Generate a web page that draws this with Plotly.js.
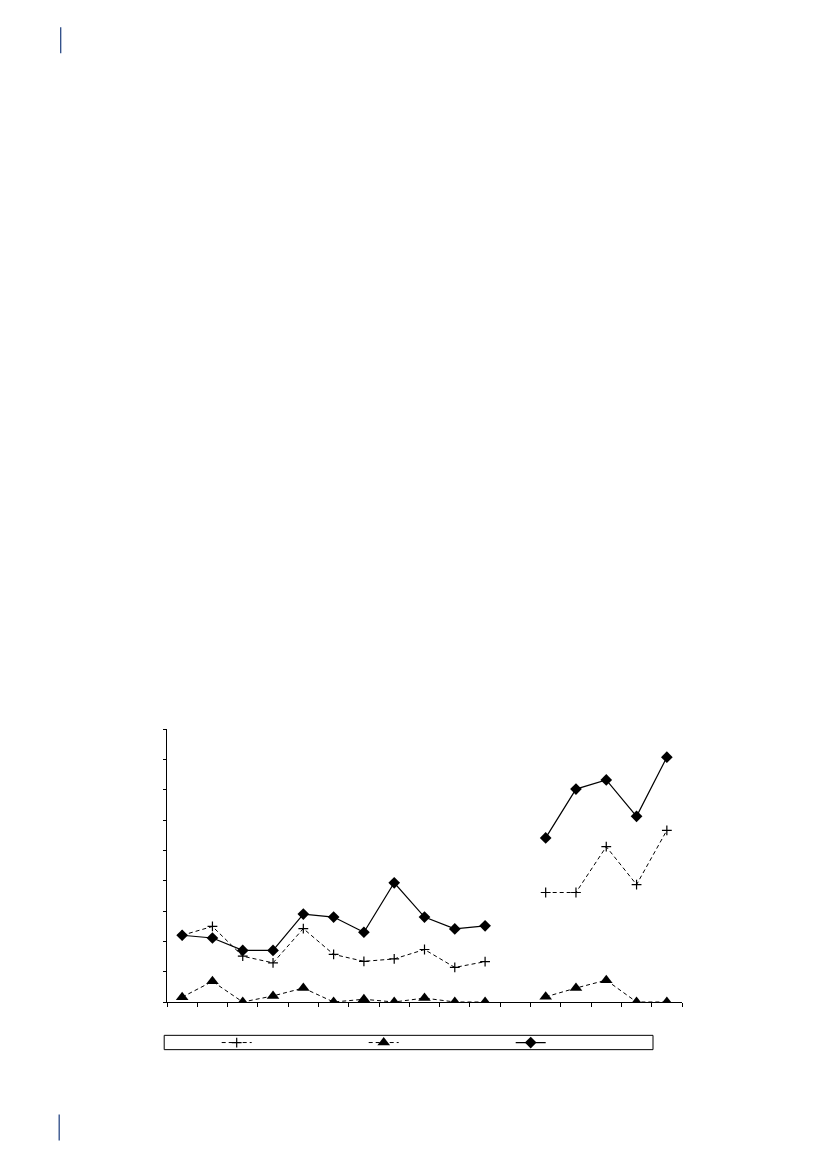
<!DOCTYPE html>
<html>
<head>
<meta charset="utf-8">
<script src="https://cdn.plot.ly/plotly-3.0.1.min.js"></script>
<style>
  html, body { margin: 0; padding: 0; background: #fff; }
  #chart { width: 827px; height: 1169px; }
</style>
</head>
<body>
<div id="chart"></div>
<script>
// categories along the x axis (no labels printed on the chart), slot 12 is empty
var categories = ['1', '2', '3', '4', '5', '6', '7', '8', '9', '10', '11',
                  '12', '13', '14', '15', '16', '17'];

var plusValues = [2.2, 2.49, 1.51, 1.29, 2.42, 1.57, 1.34, 1.42, 1.73, 1.14, 1.33,
                  null, 3.61, 3.61, 5.12, 3.87, 5.66];
var triangleValues = [0.16, 0.68, 0, 0.2, 0.46, 0, 0.09, 0, 0.13, 0, 0,
                      null, 0.17, 0.46, 0.72, 0, 0];
var diamondValues = [2.2, 2.11, 1.7, 1.7, 2.9, 2.8, 2.3, 3.93, 2.8, 2.41, 2.51,
                     null, 5.41, 7.02, 7.32, 6.12, 8.07];

var W = 827, H = 1169;

function px(x){ return (x - 167.3) / (682.3 - 167.3); }
function py(y){ return (1001.7 - y) / (1001.7 - 729); }

var trace1 = {
    x: categories, y: plusValues, name: ' ',
    type: 'scatter', mode: 'lines+markers', connectgaps: false,
    line: {color: '#000', width: 1, dash: '4px,3px'},
    marker: {symbol: 'cross-thin', size: 7, color: '#000', line: {color: '#000', width: 1.2}}
};
var trace2 = {
    x: categories, y: triangleValues, name: ' ',
    type: 'scatter', mode: 'lines+markers', connectgaps: false,
    line: {color: '#000', width: 1, dash: '4px,3px'},
    marker: {symbol: 'triangle-up', size: 11, color: '#000'}
};
var trace3 = {
    x: categories, y: diamondValues, name: ' ',
    type: 'scatter', mode: 'lines+markers', connectgaps: false,
    line: {color: '#000', width: 1.2},
    marker: {symbol: 'diamond', size: 9, color: '#000'}
};

var layout = {
    width: W, height: H,
    margin: {l: 167.3, r: W - 682.3, t: 729, b: H - 1001.7, pad: 0},
    paper_bgcolor: '#fff', plot_bgcolor: '#fff',
    font: {family: 'Liberation Sans, Arial, sans-serif', size: 10, color: '#000'},
    showlegend: true,
    legend: {
        orientation: 'h',
        x: px(217), xanchor: 'left',
        y: py(1042.2), yanchor: 'middle',
        entrywidth: 102, entrywidthmode: 'pixels',
        itemwidth: 30,
        bgcolor: 'rgba(0,0,0,0)', borderwidth: 0,
        font: {size: 9}
    },
    xaxis: {
        type: 'category', range: [-0.5, 16.5],
        showline: true, linecolor: '#000', linewidth: 1.3,
        ticks: 'outside', tickson: 'boundaries', ticklen: 4, tickcolor: '#000', tickwidth: 1,
        showticklabels: false, showgrid: false, zeroline: false, fixedrange: true
    },
    yaxis: {
        range: [0, 9], dtick: 1,
        showline: true, linecolor: '#000', linewidth: 1.3,
        ticks: 'outside', ticklen: 3, tickcolor: '#000', tickwidth: 1,
        showticklabels: false, showgrid: false, zeroline: false, fixedrange: true
    },
    shapes: [
        // legend frame
        {type: 'rect', xref: 'paper', yref: 'paper',
         x0: px(164.5), x1: px(653.3), y0: py(1049.3), y1: py(1035),
         line: {color: '#000', width: 1}},
        // page margin marks
        {type: 'line', xref: 'paper', yref: 'paper',
         x0: px(61), x1: px(61), y0: py(28), y1: py(54),
         line: {color: '#2b4a86', width: 1.3}},
        {type: 'line', xref: 'paper', yref: 'paper',
         x0: px(59.5), x1: px(59.5), y0: py(1114), y1: py(1140),
         line: {color: '#2b4a86', width: 1.3}}
    ]
};

Plotly.newPlot('chart', [trace1, trace2, trace3], layout, {displayModeBar: false, staticPlot: true});
</script>
</body>
</html>
